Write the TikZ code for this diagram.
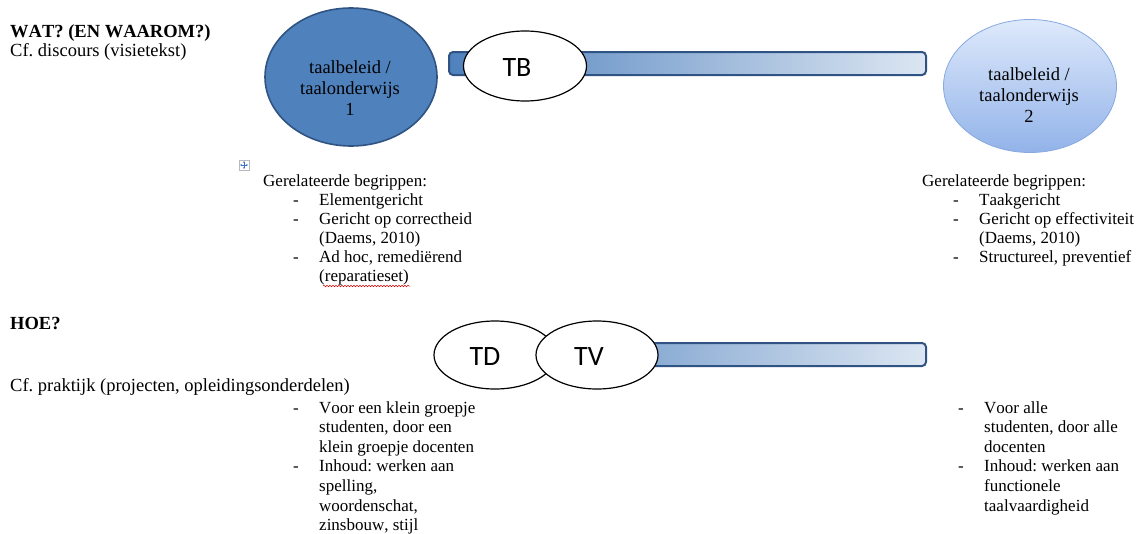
\documentclass[tikz,border=0pt]{standalone}
\usepackage{fontspec}
\setmainfont[Kerning=Off]{Liberation Serif}
\newfontfamily\calibfont{Carlito}
\usetikzlibrary{shapes.geometric,decorations.pathmorphing,arrows.meta}
\frenchspacing

\definecolor{accent}{HTML}{4F81BD}
\definecolor{accentdark}{HTML}{2F5383}
\definecolor{barlight}{HTML}{DCE6F2}
\definecolor{paletop}{HTML}{DEE9FB}
\definecolor{palebottom}{HTML}{92B3E9}
\definecolor{paleline}{HTML}{86A9E0}
\definecolor{handleblue}{HTML}{3A6FD0}

% list helpers: a dash in a fixed-width box, or the same indent without it
\newcommand\ldash{\makebox[26pt][l]{-}}
\newcommand\lcont{\hspace*{26pt}}

\tikzset{
  x=1pt, y=-1pt,
  headtext/.style={inner sep=0pt, anchor=base west, font=\fontsize{18.5}{19}\selectfont\bfseries},
  plaintext/.style={inner sep=0pt, anchor=base west, font=\fontsize{18.5}{19}\selectfont},
  listtext/.style={inner sep=0pt, anchor=base west, font=\fontsize{17}{19}\selectfont},
  darkell/.style={ellipse, inner sep=0pt, fill=accent, draw=accentdark, line width=1.6pt,
    minimum width=172pt, minimum height=138pt},
  paleell/.style={ellipse, inner sep=0pt, top color=paletop, bottom color=palebottom,
    draw=paleline, line width=0.8pt, minimum width=173pt, minimum height=133pt},
  elltext/.style={inner sep=0pt, anchor=base, font=\fontsize{18.5}{21}\selectfont},
  bar/.style={rectangle, rounded corners=4pt, inner sep=0pt, left color=accent,
    right color=barlight, draw=accentdark, line width=2pt,
    minimum width=477pt, minimum height=23pt},
  tag/.style={ellipse, inner sep=0pt, fill=white, draw=black, line width=1.2pt,
    minimum width=123pt, minimum height=70pt},
  tagtext/.style={inner sep=0pt, font=\calibfont\fontsize{28}{28}\selectfont},
}

\begin{document}
\begin{tikzpicture}
\useasboundingbox (0,0) rectangle (1139,533);

% ---- headings on the left
\node[headtext] (wat) at (10,37) {WAT? (EN WAAROM?)};
\node[plaintext] (disc) at (10,56) {Cf. discours (visietekst)};
\node[headtext] (hoe) at (10,329) {HOE?};
\node[plaintext] (prak) at (10,391) {Cf. praktijk (projecten, opleidingsonderdelen)};

% ---- the two poles
\node[darkell] (pole1) at (351,77) {};
\node[elltext] (pole1t) at (350,73) {\parbox[t]{130pt}{\centering taalbeleid /\\taalonderwijs\\1}};
\node[paleell] (pole2) at (1030,86) {};
\node[elltext] (pole2t) at (1029,80) {\parbox[t]{130pt}{\centering taalbeleid /\\taalonderwijs\\2}};

% ---- upper bar with TB
\node[bar] (bar1) at (687.5,63.5) {};
\node[tag, label={[tagtext, xshift=-8pt, yshift=-2pt]center:TB}] (tb) at (525,66) {};

% ---- lower bar with TD and TV
\node[bar] (bar2) at (687.5,354.5) {};
\node[tag, minimum width=122pt, minimum height=68pt,
  label={[tagtext, xshift=-10pt, yshift=-2pt]center:TD}] (td) at (495,355) {};
\node[tag, minimum width=122pt, minimum height=68pt,
  label={[tagtext, xshift=-8pt, yshift=-2pt]center:TV}] (tv) at (597,355) {};

% ---- small move handle
\node[draw=gray!55, fill=white, line width=0.5pt, minimum size=10pt, inner sep=0pt] (mv) at (244,165) {};
\draw[handleblue, line width=0.6pt, {Stealth[length=1.6pt,width=2pt]}-{Stealth[length=1.6pt,width=2pt]}]
  ([xshift=-3.8pt]mv.center) -- ([xshift=3.8pt]mv.center);
\draw[handleblue, line width=0.6pt, {Stealth[length=1.6pt,width=2pt]}-{Stealth[length=1.6pt,width=2pt]}]
  ([yshift=-3.8pt]mv.center) -- ([yshift=3.8pt]mv.center);

% ---- related concepts, left
\node[listtext] (rel1) at (263,186) {Gerelateerde begrippen:};
\node[listtext] (rel1l) at (293,205) {\parbox[t]{220pt}{\raggedright\fontsize{17}{19}\selectfont
  \ldash Elementgericht\\
  \ldash Gericht op correctheid\\
  \lcont(Daems, 2010)\\
  \ldash Ad hoc, remedi\"erend\\
  \lcont(reparatieset)}};
\draw[red!85!black, line width=0.5pt, decorate,
  decoration={snake, amplitude=0.7pt, segment length=3pt}] (323,286) -- (410,286);

% ---- related concepts, right
\node[listtext] (rel2) at (922,186) {Gerelateerde begrippen:};
\node[listtext] (rel2l) at (953,205) {\parbox[t]{220pt}{\raggedright\fontsize{17}{19}\selectfont
  \ldash Taakgericht\\
  \ldash Gericht op effectiviteit\\
  \lcont(Daems, 2010)\\
  \ldash Structureel, preventief}};

% ---- practice, left
\node[listtext] (pr1) at (293,413) {\parbox[t]{220pt}{\raggedright\fontsize{17}{19.6}\selectfont
  \ldash Voor een klein groepje\\
  \lcont studenten, door een\\
  \lcont klein groepje docenten\\
  \ldash Inhoud: werken aan\\
  \lcont spelling,\\
  \lcont woordenschat,\\
  \lcont zinsbouw, stijl}};

% ---- practice, right
\node[listtext] (pr2) at (958,413) {\parbox[t]{220pt}{\raggedright\fontsize{17}{19.6}\selectfont
  \ldash Voor alle\\
  \lcont studenten, door alle\\
  \lcont docenten\\
  \ldash Inhoud: werken aan\\
  \lcont functionele\\
  \lcont taalvaardigheid}};
\end{tikzpicture}
\end{document}
